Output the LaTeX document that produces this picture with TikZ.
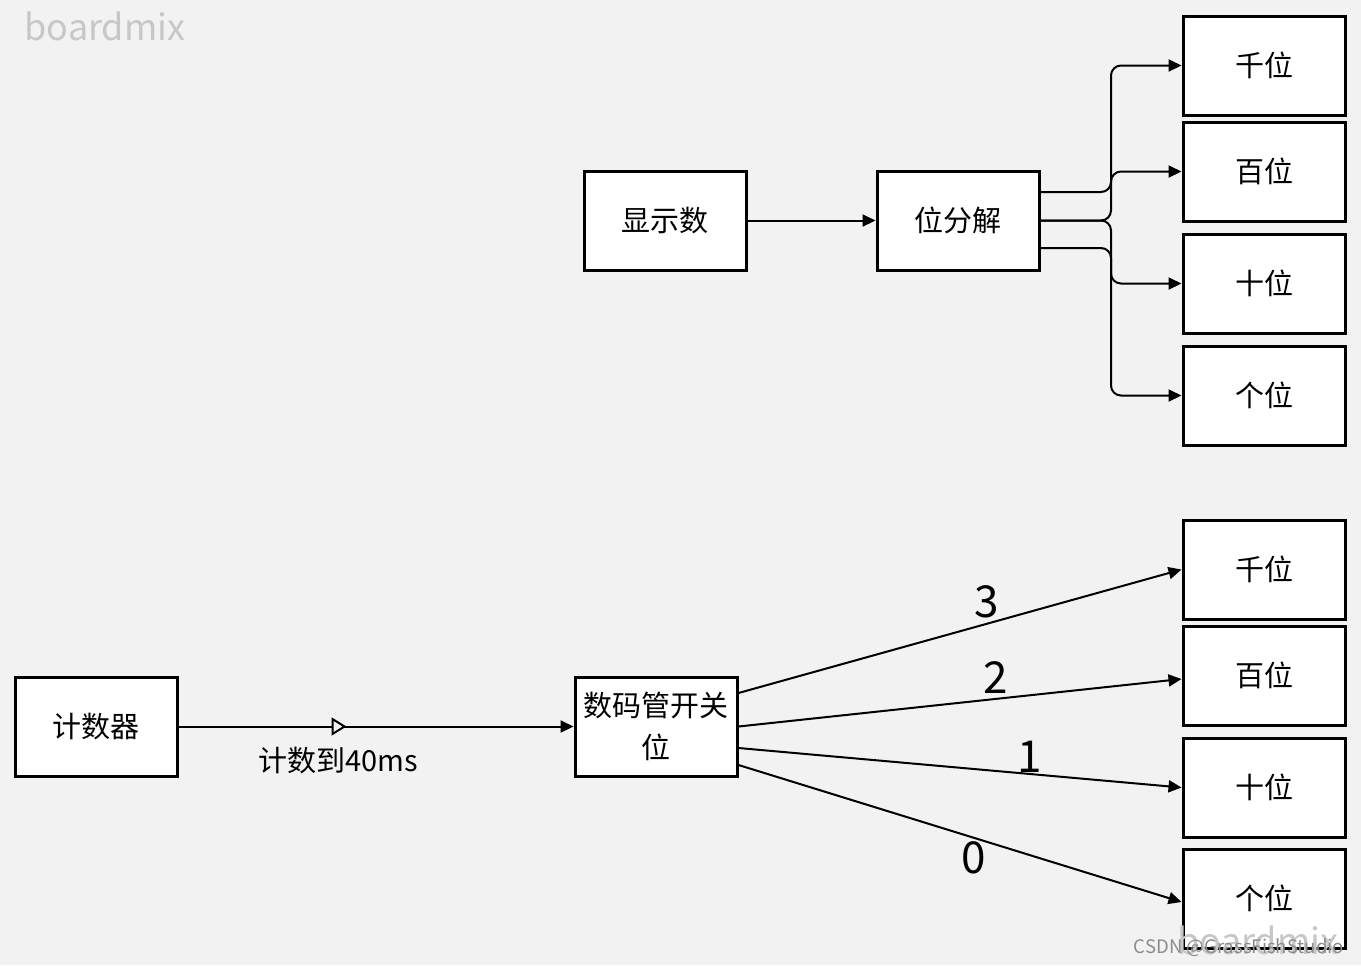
\documentclass[tikz,border=0pt]{standalone}
\usepackage{fontspec}
\setmainfont{Noto Sans CJK SC}
\usetikzlibrary{positioning,arrows.meta,decorations.markings,calc}
\definecolor{bgcol}{HTML}{F2F2F2}

\begin{document}
\begin{tikzpicture}[x=0.5pt,y=-0.5pt,
  box/.style={draw, line width=1.5pt, fill=white, minimum width=81pt, minimum height=49.5pt, inner sep=2pt, align=center, font=\fontsize{14.5}{21}\selectfont},
  arr/.style={-{Triangle[length=6.5pt,width=6pt]}, line width=1pt},
  elbow/.style={arr, rounded corners=5pt},
  num/.style={font=\fontsize{22}{24}\selectfont, inner sep=0pt},
  lab/.style={font=\fontsize{14.5}{16}\selectfont, inner sep=0pt},
  wm/.style={text=black!22, font=\fontsize{18}{20}\selectfont, inner sep=0pt}
]
\fill[bgcol] (0,0) rectangle (1361,965);
% top: display number split
\node[box] (show) at (665,220.5) {显示数};
\node[box] (split) at (958,220.5) {位分解};
\node[box] (t1) at (1264,65.5) {千位};
\node[box] (t2) at (1264,171.5) {百位};
\node[box] (t3) at (1264,283.5) {十位};
\node[box] (t4) at (1264,395.5) {个位};
\coordinate (bus) at (1111,220.5);
\draw[arr] (show) -- (split);
\draw[elbow] ($(split.east)+(0,-28.5)$) -| (bus |- t1.west) -- (t1.west);
\draw[elbow] (split.east) -| (bus |- t2.west) -- (t2.west);
\draw[elbow] (split.east) -| (bus |- t3.west) -- (t3.west);
\draw[elbow] ($(split.east)+(0,27.5)$) -| (bus |- t4.west) -- (t4.west);
% bottom: digit select
\node[box] (cnt) at (96,726.5) {计数器};
\node[box] (sw) at (656,726.5) {数码管开关\\位};
\node[box] (b1) at (1264,569.5) {千位};
\node[box] (b2) at (1264,675.5) {百位};
\node[box] (b3) at (1264,787.5) {十位};
\node[box] (b4) at (1264,898.5) {个位};
\draw[arr, postaction={decorate}, decoration={markings, mark=at position 84pt with {\arrow{Triangle[length=7.5pt,width=9pt,fill=bgcol,line width=1pt]}}}]
  (cnt) -- (sw) node[lab, pos=0.405, yshift=-17pt] {计数到40ms};
\draw[arr] ($(sw.east)+(0,-33.5)$) -- (b1.west) node[num, pos=0.56, yshift=11pt] {3};
\draw[arr] (sw.east) -- ($(b2.west)+(0,3.5)$) node[num, pos=0.58, yshift=10.5pt] {2};
\draw[arr] ($(sw.east)+(0,21.5)$) -- (b3.west) node[num, pos=0.657, yshift=8.8pt] {1};
\draw[arr] ($(sw.east)+(0,38.5)$) -- ($(b4.west)+(0,3.5)$) node[num, pos=0.53, yshift=-10pt] {0};
% watermarks
\node[wm] (wmtop) at (105,26) {boardmix};
\node[wm] (wmbot) at (1258,940) {boardmix};
\node[text=black!45, font=\fontsize{9.3}{10}\selectfont, inner sep=0pt] (csdn) at (1239,948) {CSDN @GrassFishStudio};
\end{tikzpicture}
\end{document}
